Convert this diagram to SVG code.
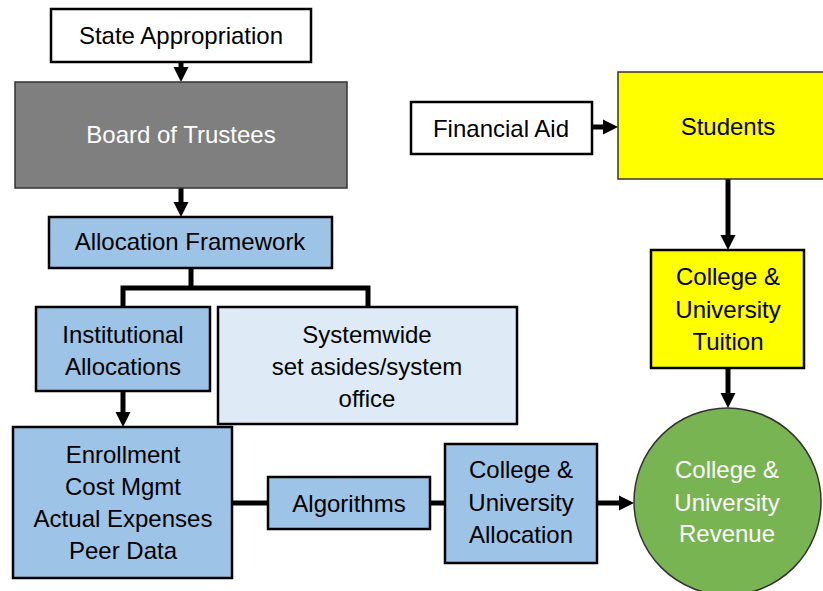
<svg xmlns="http://www.w3.org/2000/svg" width="823" height="591" viewBox="0 0 823 591">
<style>
  text { font-family: "Liberation Sans", Arial, sans-serif; font-size: 24px; text-anchor: middle; fill: #000; }
  .w { fill: #fff; }
  .bx { stroke: #000; stroke-width: 2.5; }
  .thin { stroke: #333; stroke-width: 1.5; }
  .white { fill: #fff; }
  .blue { fill: #9DC3E6; }
  .lblue { fill: #DEEBF7; }
  .yellow { fill: #FFFF00; }
  .gray { fill: #7F7F7F; }
  .green { fill: #78B452; }
  .conn { fill: none; stroke: #000; stroke-width: 5; }
</style>
<defs>
  <marker id="ah" viewBox="0 0 10 10" refX="0" refY="5" markerWidth="3" markerHeight="3.2" markerUnits="strokeWidth" orient="auto">
    <path d="M0,0 L10,5 L0,10 z" fill="#000"/>
  </marker>
</defs>

<g id="connectors">
  <path class="conn" d="M181,62 V67" marker-end="url(#ah)"/>
  <path class="conn" d="M181,188 V202" marker-end="url(#ah)"/>
  <path class="conn" d="M191,268 V288"/>
  <path class="conn" d="M123,307 V288 H368 V307"/>
  <path class="conn" d="M123,391 V412" marker-end="url(#ah)"/>
  <path class="conn" d="M232,503 H268"/>
  <path class="conn" d="M430,503 H445"/>
  <path class="conn" d="M597,503 H619" marker-end="url(#ah)"/>
  <path class="conn" d="M592,127 H603" marker-end="url(#ah)"/>
  <path class="conn" d="M728,179 V235" marker-end="url(#ah)"/>
  <path class="conn" d="M728,368 V393" marker-end="url(#ah)"/>
</g>

<g id="state-appropriation">
  <rect class="white bx" x="51" y="9" width="260" height="53"/>
  <text x="181" y="44">State Appropriation</text>
</g>

<g id="board-of-trustees">
  <rect class="gray thin" x="15" y="82" width="332" height="106"/>
  <text class="w" x="181" y="143">Board of Trustees</text>
</g>

<g id="allocation-framework">
  <rect class="blue bx" x="49" y="217" width="283" height="51"/>
  <text x="190" y="250">Allocation Framework</text>
</g>

<g id="institutional-allocations">
  <rect class="blue bx" x="36" y="307" width="174" height="84"/>
  <text x="123" y="343">Institutional</text>
  <text x="123" y="375">Allocations</text>
</g>

<g id="systemwide">
  <rect class="lblue bx" x="218" y="307" width="299" height="117"/>
  <text x="367" y="343">Systemwide</text>
  <text x="367" y="375">set asides/system</text>
  <text x="367" y="407">office</text>
</g>

<g id="enrollment">
  <rect class="blue bx" x="13" y="427" width="219" height="151"/>
  <text x="123" y="463">Enrollment</text>
  <text x="123" y="495">Cost Mgmt</text>
  <text x="123" y="527">Actual Expenses</text>
  <text x="123" y="559">Peer Data</text>
</g>

<g id="algorithms">
  <rect class="blue bx" x="268" y="477" width="162" height="52"/>
  <text x="349" y="512">Algorithms</text>
</g>

<g id="cu-allocation">
  <rect class="blue bx" x="445" y="444" width="152" height="119"/>
  <text x="521" y="478">College &amp;</text>
  <text x="521" y="511">University</text>
  <text x="521" y="543">Allocation</text>
</g>

<g id="financial-aid">
  <rect class="white bx" x="411" y="102" width="181" height="52"/>
  <text x="501" y="137">Financial Aid</text>
</g>

<g id="students">
  <rect class="yellow thin" x="618" y="72" width="222" height="107"/>
  <text x="728" y="135">Students</text>
</g>

<g id="cu-tuition">
  <rect class="yellow bx" x="651" y="250" width="153" height="118"/>
  <text x="728" y="285">College &amp;</text>
  <text x="728" y="318">University</text>
  <text x="728" y="350">Tuition</text>
</g>

<g id="cu-revenue">
  <circle class="green thin" cx="727.5" cy="501.5" r="93.5"/>
  <text class="w" x="727" y="478">College &amp;</text>
  <text class="w" x="727" y="511">University</text>
  <text class="w" x="727" y="542">Revenue</text>
</g>
</svg>
